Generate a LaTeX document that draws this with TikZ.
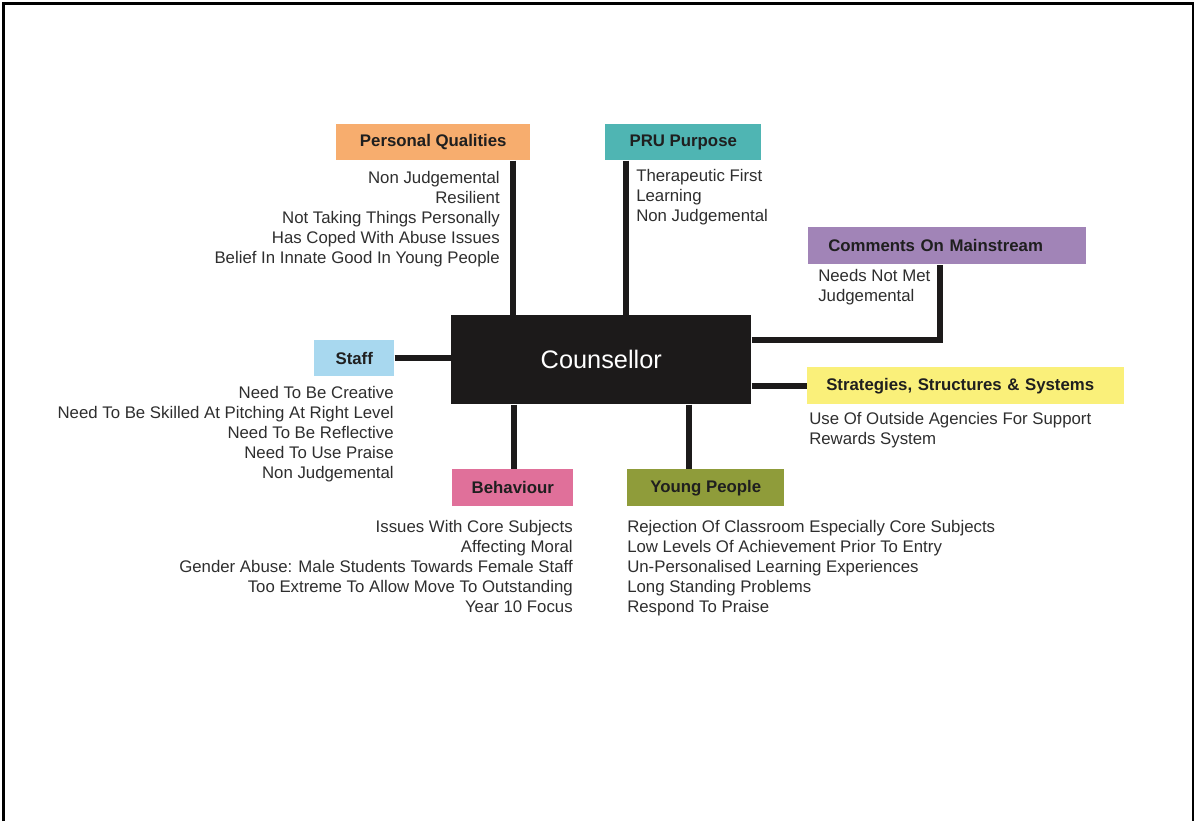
\documentclass[tikz,border=0pt]{standalone}
\usepackage{fontspec}
\setmainfont{Liberation Sans}
\definecolor{pqc}{HTML}{F7AD6E}
\definecolor{pruc}{HTML}{4FB5B3}
\definecolor{cmc}{HTML}{A184B7}
\definecolor{sssc}{HTML}{FAF07A}
\definecolor{stc}{HTML}{A8D8EF}
\definecolor{bhc}{HTML}{E0709A}
\definecolor{ypc}{HTML}{8F9C3A}
\definecolor{ctrc}{HTML}{1C1A1A}
\definecolor{txtc}{HTML}{2E2E2E}
\begin{document}
\begin{tikzpicture}[x=0.75pt,y=-0.75pt,
  box/.style={rectangle,draw=none,inner sep=0pt,anchor=north west,
    font=\fontsize{12.6}{15}\selectfont\bfseries,text=black!88},
  items/.style={inner sep=0pt,font=\fontsize{12.6}{15}\selectfont,text=txtc},
  link/.style={line width=4.5pt,draw=ctrc}]
\useasboundingbox (0,0) rectangle (1195,821);
\draw[line width=2.2pt] (3.5,821) -- (3.5,3.5) -- (1193,3.5) -- (1193,821);

% centre
\node[rectangle,fill=ctrc,minimum width=225pt,minimum height=66.75pt,anchor=north west,
  font=\fontsize{19}{22}\selectfont,text=white,inner sep=0pt] (c) at (451,315) {Counsellor};

% boxes
\node[box,fill=pqc,minimum width=145.5pt,minimum height=27pt] (pq) at (336,124) {Personal Qualities};
\node[box,fill=pruc,minimum width=117pt,minimum height=27pt] (pru) at (605,124) {PRU Purpose};
\node[box,fill=cmc,minimum width=208.5pt,minimum height=27.75pt,inner xsep=15pt,text width=178.5pt,align=left] (cm) at (808,227) {Comments On Mainstream};
\node[box,fill=sssc,minimum width=237.75pt,minimum height=27.75pt,inner xsep=14.25pt,text width=209.25pt,align=left] (sss) at (807,367) {Strategies, Structures \& Systems};
\node[box,fill=stc,minimum width=60pt,minimum height=27pt] (st) at (314,340) {Staff};
\node[box,fill=bhc,minimum width=90.75pt,minimum height=27.75pt] (bh) at (452,469) {Behaviour};
\node[box,fill=ypc,minimum width=117.75pt,minimum height=27.75pt] (yp) at (627,469) {Young People};

% connector guides
\coordinate (xpq) at (513,0);
\coordinate (xpru) at (626,0);
\coordinate (xcm) at (940,0);
\coordinate (ycm) at (0,340);
\coordinate (ysss) at (0,386);
\coordinate (yst) at (0,358);
\coordinate (xbh) at (514,0);
\coordinate (xyp) at (689,0);
\coordinate (cmcorner) at (940,340);

\draw[link] (pq.south -| xpq) -- (c.north -| xpq);
\draw[link] (pru.south -| xpru) -- (c.north -| xpru);
\draw[link] (c.east |- ycm) -- (cmcorner) -- (cm.south -| xcm);
\draw[link] (c.east |- ysss) -- (sss.west |- ysss);
\draw[link] (st.east |- yst) -- (c.west |- yst);
\draw[link] (c.south -| xbh) -- (bh.north -| xbh);
\draw[link] (c.south -| xyp) -- (yp.north -| xyp);

% item lists
\node[items,anchor=north east,align=right] (pqt) at (500,171.5) {Non Judgemental\\Resilient\\Not Taking Things Personally\\Has Coped With Abuse Issues\\Belief In Innate Good In Young People};
\node[items,anchor=north west,align=left] (prut) at (636,169.5) {Therapeutic First\\Learning\\Non Judgemental};
\node[items,anchor=north west,align=left] (cmt) at (818,269.5) {Needs Not Met\\Judgemental};
\node[items,anchor=north west,align=left] (ssst) at (809,412.5) {Use Of Outside Agencies For Support\\Rewards System};
\node[items,anchor=north east,align=right] (stt) at (394,386.5) {Need To Be Creative\\Need To Be Skilled At Pitching At Right Level\\Need To Be Reflective\\Need To Use Praise\\Non Judgemental};
\node[items,anchor=north east,align=right] (bht) at (573,520.5) {Issues With Core Subjects\\Affecting Moral\\Gender Abuse: Male Students Towards Female Staff\\Too Extreme To Allow Move To Outstanding\\Year 10 Focus};
\node[items,anchor=north west,align=left] (ypt) at (627,520.5) {Rejection Of Classroom Especially Core Subjects\\Low Levels Of Achievement Prior To Entry\\Un-Personalised Learning Experiences\\Long Standing Problems\\Respond To Praise};
\end{tikzpicture}
\end{document}
